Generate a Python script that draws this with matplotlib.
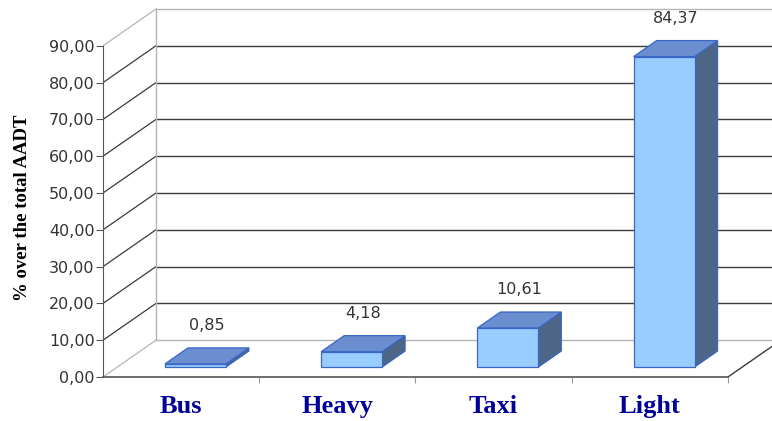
import matplotlib.pyplot as plt
from matplotlib.patches import Polygon
from matplotlib.ticker import FuncFormatter

categories = ['Bus', 'Heavy', 'Taxi', 'Light']
shares = [0.85, 4.18, 10.61, 84.37]
y_ticks = [0, 10, 20, 30, 40, 50, 60, 70, 80, 90]

# depth of the box (walls) and of the bars, in data units
wall_dx, wall_dy = 0.339, 10.0
bar_front = 0.27          # fraction of wall depth where the bar front sits
bar_dx, bar_dy = 0.147, 4.35
bar_w = 0.39

face_c = '#99CCFF'
top_c = '#6A8ED0'
side_c = '#4D6587'
edge_c = '#3A66C4'
grid_c = '#3a3a3a'
light_c = '#b5b5b5'

fig = plt.figure(figsize=(7.72, 4.21), dpi=100)
ax = fig.add_axes([103 / 772, 1 - 377 / 421, 1 - 103 / 772, (377 - 8) / 421])
ax.set_xlim(-0.5, 3.782)
ax.set_ylim(0, 100.27)
ax.patch.set_visible(False)

x0 = -0.5
xb = x0 + wall_dx
xend = 3.5

# back wall gridlines and left wall diagonals
for v in y_ticks:
    c = light_c if v in (0, 90) else grid_c
    ax.plot([xb, 4.0], [v + wall_dy, v + wall_dy], color=c, lw=1.0, zorder=1)
    ax.plot([x0, xb], [v, v + wall_dy], color=c, lw=0.9, zorder=1)
ax.plot([xb, xb], [wall_dy, 90 + wall_dy], color=light_c, lw=1.0, zorder=1)
# floor right edge
ax.plot([xend, xend + wall_dx], [0, wall_dy], color=grid_c, lw=1.0, zorder=1)

# 3D bars
for i, v in enumerate(shares):
    fx = i - bar_w / 2 + bar_front * wall_dx
    fy = bar_front * wall_dy
    top = fy + v
    front = [(fx, fy), (fx + bar_w, fy), (fx + bar_w, top), (fx, top)]
    topf = [(fx, top), (fx + bar_w, top), (fx + bar_w + bar_dx, top + bar_dy),
            (fx + bar_dx, top + bar_dy)]
    side = [(fx + bar_w, fy), (fx + bar_w + bar_dx, fy + bar_dy),
            (fx + bar_w + bar_dx, top + bar_dy), (fx + bar_w, top)]
    for pts, col in ((side, side_c), (topf, top_c), (front, face_c)):
        ax.add_patch(Polygon(pts, closed=True, facecolor=col, edgecolor=edge_c,
                             lw=0.9, zorder=3))
    ax.text(fx + (bar_w + bar_dx) / 2, top + bar_dy + 6.0,
            f'{v:.2f}'.replace('.', ','), ha='center', va='center',
            fontsize=11.5, color='#333333', family='DejaVu Sans', zorder=4)

# axes styling
for s in ('top', 'right'):
    ax.spines[s].set_visible(False)
ax.spines['left'].set_bounds(0, 90)
ax.spines['left'].set_color('#555555')
ax.spines['bottom'].set_bounds(-0.5, 3.5)
ax.spines['bottom'].set_color('#555555')
ax.spines['bottom'].set_linewidth(1.2)

ax.set_yticks(y_ticks)
ax.yaxis.set_major_formatter(FuncFormatter(lambda v, p: f'{v:.2f}'.replace('.', ',')))
ax.tick_params(axis='y', length=5, color='#555555', labelsize=11.5,
               labelcolor='#333333', pad=1)
for t in ax.get_yticklabels():
    t.set_family('DejaVu Sans')

ax.set_xticks([0.5, 1.5, 2.5, 3.5])
ax.set_xticklabels([])
ax.tick_params(axis='x', which='major', length=4, color='#999999')
ax.set_xticks(range(len(categories)), minor=True)
ax.set_xticklabels(categories, minor=True)
ax.tick_params(axis='x', which='minor', length=0, pad=13, labelsize=19,
               labelcolor='#000099')
for t in ax.get_xticklabels(minor=True):
    t.set_family('Liberation Serif')
    t.set_fontweight('bold')

ax.set_ylabel('% over the total AADT', fontsize=13.5, fontweight='bold',
              family='Liberation Serif')
ax.yaxis.set_label_coords(-0.108, 0.458)

fig.savefig('out.png', dpi=100)
